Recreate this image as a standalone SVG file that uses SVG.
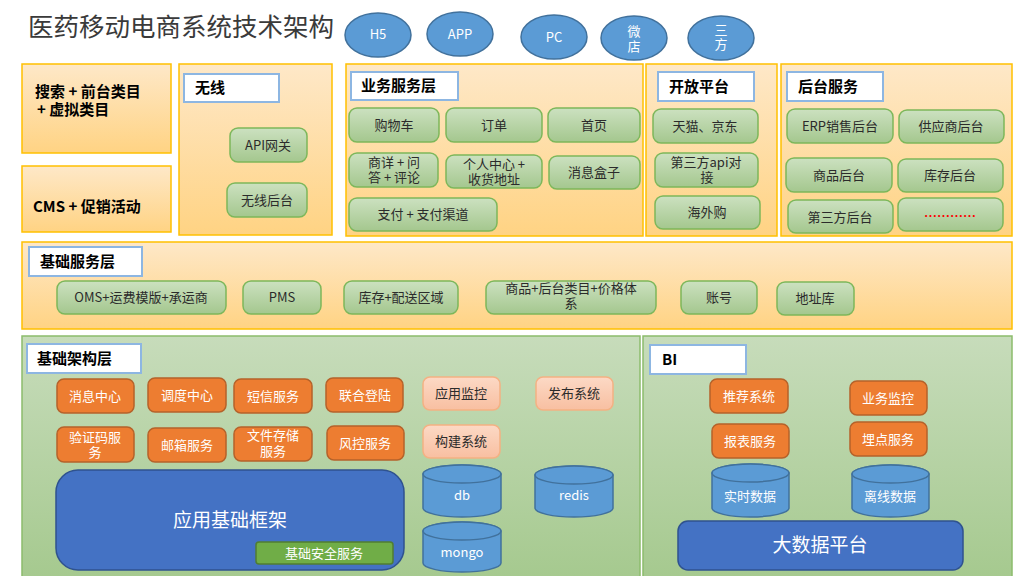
<svg xmlns="http://www.w3.org/2000/svg" width="1024" height="576" viewBox="0 0 1024 576">
<defs>
<linearGradient id="gOr" x1="0" y1="0" x2="0" y2="1"><stop offset="0" stop-color="#fee8c8"/><stop offset="1" stop-color="#ffd383"/></linearGradient>
<linearGradient id="gGrP" x1="0" y1="0" x2="0" y2="1"><stop offset="0" stop-color="#c7dcbb"/><stop offset="1" stop-color="#a5c98e"/></linearGradient>
<linearGradient id="gGrN" x1="0" y1="0" x2="0" y2="1"><stop offset="0" stop-color="#cce1c0"/><stop offset="1" stop-color="#a4c78e"/></linearGradient>
<linearGradient id="gSal" x1="0" y1="0" x2="0" y2="1"><stop offset="0" stop-color="#fcd9c5"/><stop offset="1" stop-color="#f8bfa1"/></linearGradient>
</defs>
<style>
text{font-family:"Noto Sans CJK SC","Noto Sans",sans-serif}
.pan{fill:url(#gOr);stroke:#ffc000;stroke-width:1.5}
.gp{fill:url(#gGrP);stroke:#8cbc6c;stroke-width:1.5}
.lbx{fill:#fff;stroke:#8db6e2;stroke-width:2}
.lb{font-size:15px;font-weight:bold;fill:#000}
.gn{fill:url(#gGrN);stroke:#7db75a;stroke-width:1.5}
.on{fill:#ed7d31;stroke:#b5622a;stroke-width:1.5}
.sn{fill:url(#gSal);stroke:#f4b183;stroke-width:1.5}
.el{fill:#5b9bd5;stroke:#41719c;stroke-width:1.5}
.cy{fill:#5b9bd5;stroke:#41719c;stroke-width:1.5}
.nt{font-size:13px;fill:#2b2b2b;text-anchor:middle}
.wt{font-size:13px;fill:#fff;text-anchor:middle}
</style>
<rect width="1024" height="576" fill="#fff"/>
<text x="28" y="36" font-size="25.5" fill="#3a3a3a">医药移动电商系统技术架构</text>

<g id="clients">
<g id="h5"><ellipse class="el" cx="378" cy="35" rx="33" ry="22"/><text class="wt" x="378" y="39">H5</text></g>
<g id="app"><ellipse class="el" cx="460" cy="34" rx="33" ry="22"/><text class="wt" x="460" y="39">APP</text></g>
<g id="pc"><ellipse class="el" cx="554" cy="37" rx="33" ry="22"/><text class="wt" x="554" y="42">PC</text></g>
<g id="weidian"><ellipse class="el" cx="634" cy="38" rx="33" ry="22"/><text class="wt" x="634" y="36">微<tspan x="634" dy="15">店</tspan></text></g>
<g id="sanfang"><ellipse class="el" cx="721" cy="38" rx="33" ry="22"/><text class="wt" x="721" y="35">三<tspan x="721" dy="14">方</tspan></text></g>
</g>

<g id="search"><rect class="pan" x="22" y="64" width="149" height="89"/><text class="lb" x="35" y="97">搜索 + 前台类目<tspan x="37" dy="18">+ 虚拟类目</tspan></text></g>
<g id="cms"><rect class="pan" x="22" y="166" width="149" height="66"/><text class="lb" x="33" y="212">CMS + 促销活动</text></g>

<g id="wireless">
<rect class="pan" x="179" y="64" width="153" height="171"/>
<rect class="lbx" x="184" y="74" width="95" height="28"/><text class="lb" x="195" y="93">无线</text>
<g id="apigw"><rect class="gn" x="230" y="128" width="77" height="34" rx="8"/><text class="nt" x="268" y="150">API网关</text></g>
<g id="wxbackend"><rect class="gn" x="227" y="183" width="80" height="34" rx="8"/><text class="nt" x="267" y="205">无线后台</text></g>
</g>

<g id="bizlayer">
<rect class="pan" x="346" y="64" width="297" height="172"/>
<rect class="lbx" x="351" y="72" width="107" height="28"/><text class="lb" x="361" y="91">业务服务层</text>
<g id="cart"><rect class="gn" x="349" y="108" width="90" height="34" rx="8"/><text class="nt" x="394" y="130">购物车</text></g>
<g id="order"><rect class="gn" x="446" y="108" width="96" height="34" rx="8"/><text class="nt" x="494" y="130">订单</text></g>
<g id="home"><rect class="gn" x="548" y="108" width="92" height="34" rx="8"/><text class="nt" x="594" y="130">首页</text></g>
<g id="detail"><rect class="gn" x="349" y="153" width="89" height="34" rx="8"/><text class="nt" x="394" y="167">商详 + 问<tspan x="394" dy="15">答 + 评论</tspan></text></g>
<g id="ucenter"><rect class="gn" x="446" y="155" width="96" height="33" rx="8"/><text class="nt" x="494" y="169">个人中心 +<tspan x="494" dy="15">收货地址</tspan></text></g>
<g id="msgbox"><rect class="gn" x="549" y="156" width="91" height="33" rx="8"/><text class="nt" x="594" y="177">消息盒子</text></g>
<g id="pay"><rect class="gn" x="349" y="198" width="148" height="33" rx="8"/><text class="nt" x="423" y="219">支付 + 支付渠道</text></g>
</g>

<g id="openplat">
<rect class="pan" x="646" y="64" width="131" height="172"/>
<rect class="lbx" x="658" y="72" width="96" height="29"/><text class="lb" x="669" y="92">开放平台</text>
<g id="tmall"><rect class="gn" x="653" y="109" width="105" height="34" rx="8"/><text class="nt" x="705" y="131">天猫、京东</text></g>
<g id="api3"><rect class="gn" x="655" y="153" width="103" height="34" rx="8"/><text class="nt" x="706" y="167">第三方api对<tspan x="707" dy="15">接</tspan></text></g>
<g id="haiwai"><rect class="gn" x="655" y="196" width="105" height="33" rx="8"/><text class="nt" x="707" y="217">海外购</text></g>
</g>

<g id="backend">
<rect class="pan" x="781" y="64" width="231" height="172"/>
<rect class="lbx" x="787" y="72" width="96" height="29"/><text class="lb" x="798" y="92">后台服务</text>
<g id="erp"><rect class="gn" x="787" y="109" width="106" height="34" rx="8"/><text class="nt" x="840" y="131">ERP销售后台</text></g>
<g id="supplier"><rect class="gn" x="899" y="110" width="105" height="33" rx="8"/><text class="nt" x="951" y="131">供应商后台</text></g>
<g id="goodsbk"><rect class="gn" x="786" y="158" width="106" height="34" rx="8"/><text class="nt" x="839" y="180">商品后台</text></g>
<g id="stockbk"><rect class="gn" x="898" y="159" width="105" height="33" rx="8"/><text class="nt" x="950" y="180">库存后台</text></g>
<g id="thirdbk"><rect class="gn" x="788" y="200" width="105" height="33" rx="8"/><text class="nt" x="840" y="222">第三方后台</text></g>
<g id="more"><rect class="gn" x="898" y="198" width="105" height="33" rx="8"/><text x="950" y="221" font-size="13" fill="#ff0000" text-anchor="middle" font-weight="bold">…………</text></g>
</g>

<g id="baselayer">
<rect class="pan" x="22" y="242" width="990" height="87"/>
<rect class="lbx" x="29" y="247" width="113" height="29"/><text class="lb" x="40" y="267">基础服务层</text>
<g id="oms"><rect class="gn" x="57" y="281" width="169" height="33" rx="8"/><text class="nt" x="141" y="302">OMS+运费模版+承运商</text></g>
<g id="pms"><rect class="gn" x="243" y="281" width="78" height="33" rx="8"/><text class="nt" x="282" y="302">PMS</text></g>
<g id="stockarea"><rect class="gn" x="344" y="281" width="114" height="33" rx="8"/><text class="nt" x="401" y="302">库存+配送区域</text></g>
<g id="goods"><rect class="gn" x="486" y="281" width="170" height="33" rx="8"/><text class="nt" x="571" y="293">商品+后台类目+价格体<tspan x="571" dy="15">系</tspan></text></g>
<g id="account"><rect class="gn" x="681" y="281" width="76" height="33" rx="8"/><text class="nt" x="719" y="302">账号</text></g>
<g id="addr"><rect class="gn" x="777" y="282" width="77" height="33" rx="8"/><text class="nt" x="815" y="303">地址库</text></g>
</g>

<g id="infra">
<rect class="gp" x="22" y="336" width="618" height="245"/>
<rect class="lbx" x="27" y="344" width="114" height="29"/><text class="lb" x="37" y="364">基础架构层</text>
<g id="msgc"><rect class="on" x="57" y="379" width="77" height="34" rx="7"/><text class="wt" x="95" y="401">消息中心</text></g>
<g id="sched"><rect class="on" x="148" y="378" width="78" height="34" rx="7"/><text class="wt" x="187" y="400">调度中心</text></g>
<g id="sms"><rect class="on" x="234" y="379" width="78" height="34" rx="7"/><text class="wt" x="273" y="401">短信服务</text></g>
<g id="unionlogin"><rect class="on" x="326" y="378" width="77" height="34" rx="7"/><text class="wt" x="365" y="400">联合登陆</text></g>
<g id="captcha"><rect class="on" x="57" y="427" width="77" height="35" rx="7"/><text class="wt" x="95" y="442">验证码服<tspan x="95" dy="15">务</tspan></text></g>
<g id="mail"><rect class="on" x="148" y="428" width="78" height="34" rx="7"/><text class="wt" x="187" y="450">邮箱服务</text></g>
<g id="filestore"><rect class="on" x="234" y="427" width="78" height="34" rx="7"/><text class="wt" x="273" y="440">文件存储<tspan x="273" dy="16">服务</tspan></text></g>
<g id="risk"><rect class="on" x="327" y="426" width="77" height="34" rx="7"/><text class="wt" x="365" y="448">风控服务</text></g>
<g id="appmon"><rect class="sn" x="423" y="377" width="77" height="33" rx="7"/><text class="nt" x="461" y="398">应用监控</text></g>
<g id="release"><rect class="sn" x="536" y="377" width="77" height="33" rx="7"/><text class="nt" x="574" y="398">发布系统</text></g>
<g id="build"><rect class="sn" x="423" y="425" width="77" height="33" rx="7"/><text class="nt" x="461" y="446">构建系统</text></g>
<g id="appfw"><rect x="56" y="470" width="348" height="100" rx="22" fill="#4472c4" stroke="#2f528f" stroke-width="1.5"/><text x="230" y="527" font-size="19" fill="#fff" text-anchor="middle">应用基础框架</text>
<g id="security"><rect x="256" y="542" width="137" height="22" rx="3" fill="#70ad47" stroke="#507e32" stroke-width="1.5"/><text class="wt" x="324" y="558">基础安全服务</text></g></g>
<g id="db"><path class="cy" d="M423,474 V508 A39,9 0 0 0 501,508 V474 A39,9 0 0 0 423,474 Z"/><ellipse class="cy" cx="462" cy="474" rx="39" ry="9"/><text class="wt" x="462" y="500">db</text></g>
<g id="redis"><path class="cy" d="M535,475 V508 A39,9 0 0 0 613,508 V475 A39,9 0 0 0 535,475 Z"/><ellipse class="cy" cx="574" cy="475" rx="39" ry="9"/><text class="wt" x="574" y="500">redis</text></g>
<g id="mongo"><path class="cy" d="M423,531 V563 A39,9 0 0 0 501,563 V531 A39,9 0 0 0 423,531 Z"/><ellipse class="cy" cx="462" cy="531" rx="39" ry="9"/><text class="wt" x="462" y="557">mongo</text></g>
</g>

<g id="bi">
<rect class="gp" x="643" y="336" width="369" height="245"/>
<rect class="lbx" x="650" y="345" width="96" height="29"/><text class="lb" x="662" y="365">BI</text>
<g id="recommend"><rect class="on" x="710" y="379" width="78" height="34" rx="7"/><text class="wt" x="749" y="401">推荐系统</text></g>
<g id="report"><rect class="on" x="712" y="424" width="77" height="34" rx="7"/><text class="wt" x="750" y="446">报表服务</text></g>
<g id="bizmon"><rect class="on" x="850" y="381" width="77" height="34" rx="7"/><text class="wt" x="888" y="403">业务监控</text></g>
<g id="track"><rect class="on" x="850" y="422" width="77" height="34" rx="7"/><text class="wt" x="888" y="444">埋点服务</text></g>
<g id="realtime"><path class="cy" d="M712,473 V508 A38.5,9 0 0 0 789,508 V473 A38.5,9 0 0 0 712,473 Z"/><ellipse class="cy" cx="750.5" cy="473" rx="38.5" ry="9"/><text class="wt" x="750" y="501">实时数据</text></g>
<g id="offline"><path class="cy" d="M852,474 V508 A38.5,9 0 0 0 929,508 V474 A38.5,9 0 0 0 852,474 Z"/><ellipse class="cy" cx="890.5" cy="474" rx="38.5" ry="9"/><text class="wt" x="890" y="501">离线数据</text></g>
<g id="bigdata"><rect x="678" y="521" width="285" height="49" rx="10" fill="#4472c4" stroke="#2f528f" stroke-width="1.5"/><text x="820" y="552" font-size="19" fill="#fff" text-anchor="middle">大数据平台</text></g>
</g>

<g id="connectors"></g>
</svg>
